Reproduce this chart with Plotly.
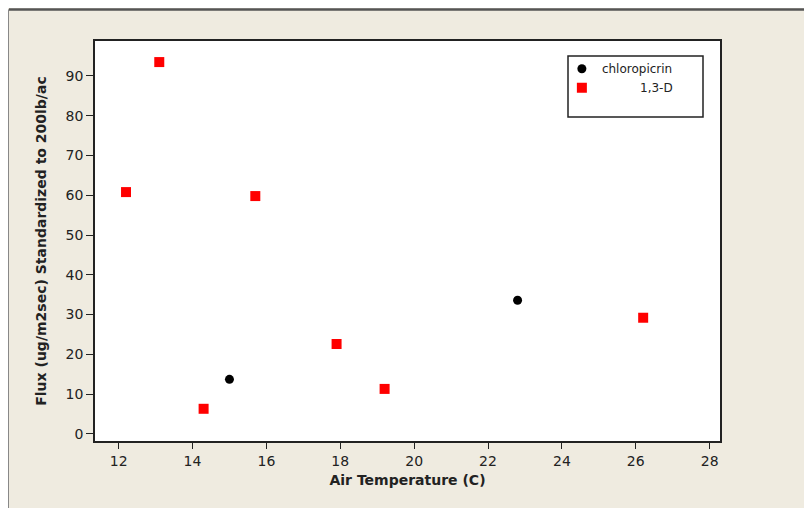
import plotly.graph_objects as go

# Data
chloro_temp = [15.0, 22.8]
chloro_flux = [13.7, 33.6]
d13_temp = [12.2, 13.1, 14.3, 15.7, 17.9, 19.2, 26.2]
d13_flux = [60.8, 93.5, 6.3, 59.8, 22.6, 11.3, 29.2]
x_ticks = [12, 14, 16, 18, 20, 22, 24, 26, 28]
y_ticks = [0, 10, 20, 30, 40, 50, 60, 70, 80, 90]

FONT = "DejaVu Sans"
NB = "\u00a0"

fig = go.Figure()
fig.add_trace(go.Scatter(
    x=chloro_temp, y=chloro_flux, mode="markers", name="chloropicrin",
    marker=dict(symbol="circle", size=9, color="black"),
))
fig.add_trace(go.Scatter(
    x=d13_temp, y=d13_flux, mode="markers", name=NB * 10 + "1,3-D",
    marker=dict(symbol="square", size=10, color="#FF0000"),
))

# legend box
fig.add_shape(type="rect", xref="paper", yref="paper",
              x0=0.7568, x1=0.9728, y0=0.81, y1=0.9625,
              line=dict(color="#222222", width=1.5), fillcolor="white", layer="above")
# outer frame lines (top & left)
fig.add_shape(type="line", xref="paper", yref="paper",
              x0=-0.1376, x1=1.2, y0=1.079, y1=1.079,
              line=dict(color="#555555", width=2.5))
fig.add_shape(type="line", xref="paper", yref="paper",
              x0=-0.1384, x1=-0.1384, y0=1.079, y1=-0.2,
              line=dict(color="#888888", width=1))

fig.update_layout(
    width=812, height=508,
    paper_bgcolor="#EFEBE0", plot_bgcolor="white",
    margin=dict(l=87, r=100, t=33, b=75),
    font=dict(family=FONT, color="#222222"),
    showlegend=True,
    legend=dict(x=0.747, y=0.967, xanchor="left", yanchor="top",
                bgcolor="rgba(0,0,0,0)", borderwidth=0,
                font=dict(size=12, family=FONT, color="#222222"),
                tracegroupgap=0),
    xaxis=dict(range=[11.36, 28.28], tickvals=x_ticks, ticks="outside", ticklen=6,
               tickcolor="#222222", showgrid=False, zeroline=False,
               showline=True, linecolor="#222222", linewidth=1.5, mirror=True,
               tickfont=dict(size=14, family=FONT),
               title=dict(text="<b>Air Temperature (C)</b>", font=dict(size=14, family=FONT), standoff=8)),
    yaxis=dict(range=[-1.8, 98.8], tickvals=y_ticks, ticks="outside", ticklen=7,
               tickcolor="#222222", showgrid=False, zeroline=False,
               showline=True, linecolor="#222222", linewidth=1.5, mirror=True,
               tickfont=dict(size=14, family=FONT),
               title=dict(text="<b>Flux (ug/m2sec) Standardized to 200lb/ac</b>",
                          font=dict(size=14, family=FONT), standoff=16)),
)

fig.write_html("out.html")
